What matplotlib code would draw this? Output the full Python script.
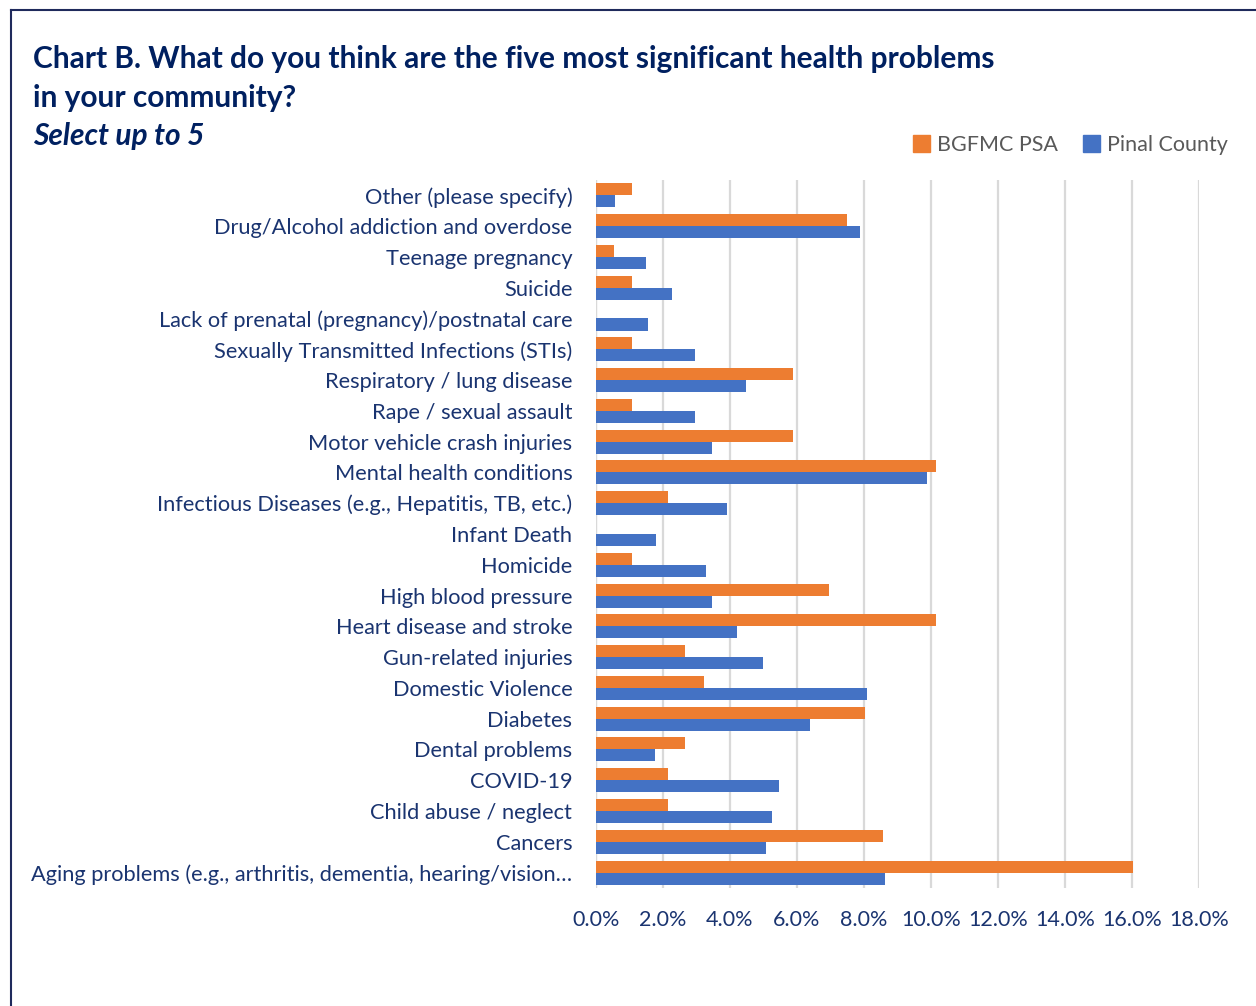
import matplotlib.pyplot as plt
from matplotlib.lines import Line2D
from matplotlib.patches import Patch
from matplotlib.ticker import PercentFormatter
import numpy as np

plt.rcParams["font.family"] = ["Lato", "DejaVu Sans"]

# survey answers, listed top to bottom as shown on the chart
categories = [
    "Other (please specify)",
    "Drug/Alcohol addiction and overdose",
    "Teenage pregnancy",
    "Suicide",
    "Lack of prenatal (pregnancy)/postnatal care",
    "Sexually Transmitted Infections (STIs)",
    "Respiratory / lung disease",
    "Rape / sexual assault",
    "Motor vehicle crash injuries",
    "Mental health conditions",
    "Infectious Diseases (e.g., Hepatitis, TB, etc.)",
    "Infant Death",
    "Homicide",
    "High blood pressure",
    "Heart disease and stroke",
    "Gun-related injuries",
    "Domestic Violence",
    "Diabetes",
    "Dental problems",
    "COVID-19",
    "Child abuse / neglect",
    "Cancers",
    "Aging problems (e.g., arthritis, dementia, hearing/vision\u2026",
]

# percent of responses
bgfmc_psa = [1.07, 7.49, 0.53, 1.07, 0.0, 1.07, 5.88, 1.07, 5.88, 10.16, 2.14, 0.0,
             1.07, 6.95, 10.16, 2.67, 3.21, 8.02, 2.67, 2.14, 2.14, 8.56, 16.04]
pinal_county = [0.57, 7.88, 1.49, 2.26, 1.55, 2.96, 4.48, 2.95, 3.46, 9.88, 3.90, 1.80,
                3.28, 3.47, 4.22, 4.98, 8.10, 6.39, 1.76, 5.45, 5.26, 5.09, 8.63]

series_names = ["BGFMC PSA", "Pinal County"]
orange = "#ED7D31"
blue = "#4472C4"
navy = "#002060"
label_color = "#1A3470"

fig = plt.figure(figsize=(12.56, 10.06), dpi=100)
ax = fig.add_axes([0.4745, 0.1173, 0.4801, 0.7038])

y = np.arange(len(categories))
h = 0.39
ax.barh(y - h / 2, bgfmc_psa, height=h, color=orange, zorder=3)
ax.barh(y + h / 2, pinal_county, height=h, color=blue, zorder=3)

ax.set_xlim(0, 18)
ax.set_ylim(len(categories) - 0.5, -0.5)
ax.set_xticks(np.arange(0, 18.1, 2))
ax.xaxis.set_major_formatter(PercentFormatter(decimals=1))
ax.set_yticks(y)
ax.set_yticklabels(categories)
ax.grid(axis="x", color="#D9D9D9", linewidth=1.6, zorder=0)
ax.axvline(0, color="#D9D9D9", linewidth=1.6, zorder=1)
for s in ax.spines.values():
    s.set_visible(False)
ax.tick_params(axis="both", length=0, labelcolor=label_color)
ax.tick_params(axis="y", pad=17, labelsize=15.7)
ax.tick_params(axis="x", pad=16, labelsize=15.5)

# title block
title_kw = dict(fontsize=21.5, fontweight="bold", color=navy, va="center")
fig.text(0.026, 0.941, "Chart B. What do you think are the five most significant health problems", **title_kw)
fig.text(0.026, 0.903, "in your community?", **title_kw)
fig.text(0.026, 0.865, "Select up to 5", fontstyle="italic", **title_kw)

handles = [Patch(color=orange), Patch(color=blue)]
fig.legend(handles, series_names, loc="center right", bbox_to_anchor=(0.993, 0.856),
           ncol=2, frameon=False, fontsize=15.5, labelcolor="#595959",
           handlelength=0.8, handleheight=0.8, handletextpad=0.3, columnspacing=1.2)

# outer frame lines
fig.add_artist(Line2D([0.0085, 1.0], [0.99, 0.99], color="#1F2A5C", linewidth=1.5,
                      transform=fig.transFigure))
fig.add_artist(Line2D([0.0085, 0.0085], [0.0, 0.99], color="#1F2A5C", linewidth=1.5,
                      transform=fig.transFigure))

fig.savefig("out.png", dpi=100)
